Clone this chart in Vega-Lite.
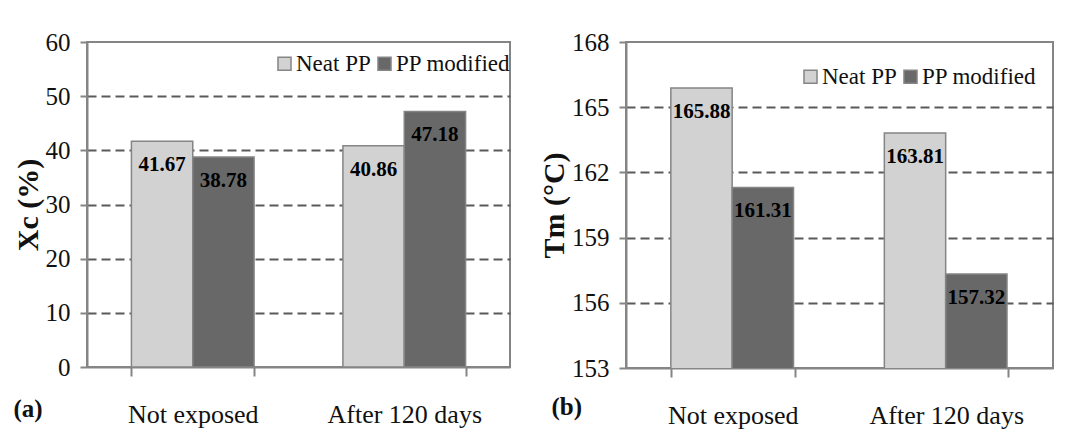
{
  "$schema": "https://vega.github.io/schema/vega-lite/v6.json",
  "padding": {"left": 12, "top": 29, "right": 5, "bottom": 0},
  "background": "white",
  "datasets": {
    "xc": [
      {"cat": "Not exposed", "series": "Neat PP", "value": 41.67},
      {"cat": "Not exposed", "series": "PP modified", "value": 38.78},
      {"cat": "After 120 days", "series": "Neat PP", "value": 40.86},
      {"cat": "After 120 days", "series": "PP modified", "value": 47.18}
    ],
    "tm": [
      {"cat": "Not exposed", "series": "Neat PP", "value": 165.88},
      {"cat": "Not exposed", "series": "PP modified", "value": 161.31},
      {"cat": "After 120 days", "series": "Neat PP", "value": 163.81},
      {"cat": "After 120 days", "series": "PP modified", "value": 157.32}
    ]
  },
  "spacing": 26,
  "resolve": {"legend": {"color": "independent"}},
  "hconcat": [
    {
      "width": 423,
      "height": 325,
      "data": {"name": "xc"},
      "encoding": {
        "x": {
          "field": "cat", "type": "nominal", "sort": ["Not exposed", "After 120 days"],
          "scale": {"paddingInner": 0.42, "paddingOuter": 0.21},
          "axis": {"title": "(a)", "titleX": -74, "titleY": 41, "titleAlign": "left", "titleBaseline": "middle", "titleAnchor": null}
        },
        "y": {
          "field": "value", "type": "quantitative",
          "scale": {"domain": [0, 60], "nice": false},
          "axis": {
            "title": "Xc (%)", "values": [0, 10, 20, 30, 40, 50, 60],
            "gridColor": {"condition": {"test": "datum.value == 60 || datum.value == 0", "value": "transparent"}, "value": "#5a5a5a"}
          }
        }
      },
      "layer": [
        {
          "mark": {"type": "bar", "stroke": "#858585", "strokeWidth": 1.5},
          "encoding": {
            "xOffset": {"field": "series", "type": "nominal", "sort": ["Neat PP", "PP modified"]},
            "color": {
              "field": "series", "type": "nominal",
              "scale": {"domain": ["Neat PP", "PP modified"], "range": ["#d2d2d2", "#686868"]},
              "legend": {"title": null, "orient": "none", "legendX": 186, "legendY": 10, "direction": "horizontal"}
            }
          }
        },
        {
          "mark": {"type": "text", "dy": 24, "baseline": "middle", "font": "Liberation Serif", "fontWeight": "bold", "fontSize": 21, "color": "black"},
          "encoding": {
            "xOffset": {"field": "series", "type": "nominal", "sort": ["Neat PP", "PP modified"]},
            "text": {"field": "value", "type": "quantitative", "format": ".2f"}
          }
        }
      ]
    },
    {
      "width": 427,
      "height": 326,
      "data": {"name": "tm"},
      "encoding": {
        "x": {
          "field": "cat", "type": "nominal", "sort": ["Not exposed", "After 120 days"],
          "scale": {"paddingInner": 0.42, "paddingOuter": 0.21},
          "axis": {"title": "(b)", "titleX": -75, "titleY": 38, "titleAlign": "left", "titleBaseline": "middle", "titleAnchor": null}
        },
        "y": {
          "field": "value", "type": "quantitative",
          "scale": {"domain": [153, 168], "nice": false, "zero": false},
          "axis": {
            "title": "Tm (°C)", "values": [153, 156, 159, 162, 165, 168],
            "gridColor": {"condition": {"test": "datum.value == 168 || datum.value == 153", "value": "transparent"}, "value": "#5a5a5a"}
          }
        }
      },
      "layer": [
        {
          "mark": {"type": "bar", "stroke": "#858585", "strokeWidth": 1.5, "clip": true},
          "encoding": {
            "xOffset": {"field": "series", "type": "nominal", "sort": ["Neat PP", "PP modified"]},
            "color": {
              "field": "series", "type": "nominal",
              "scale": {"domain": ["Neat PP", "PP modified"], "range": ["#d2d2d2", "#686868"]},
              "legend": {"title": null, "orient": "none", "legendX": 173, "legendY": 23, "direction": "horizontal"}
            }
          }
        },
        {
          "mark": {"type": "text", "dy": 24, "baseline": "middle", "font": "Liberation Serif", "fontWeight": "bold", "fontSize": 21, "color": "black"},
          "encoding": {
            "xOffset": {"field": "series", "type": "nominal", "sort": ["Neat PP", "PP modified"]},
            "text": {"field": "value", "type": "quantitative", "format": ".2f"}
          }
        }
      ]
    }
  ],
  "config": {
    "view": {"stroke": "#858585", "strokeWidth": 2},
    "font": "Liberation Serif",
    "axis": {
      "labelFont": "Liberation Serif", "labelFontSize": 25, "labelColor": "#111",
      "titleFont": "Liberation Serif", "titleColor": "#111",
      "domainColor": "#858585", "domainWidth": 2,
      "tickColor": "#858585", "tickWidth": 2
    },
    "axisY": {
      "grid": true, "gridDash": [9, 5], "gridWidth": 2.2,
      "tickSize": 7, "labelPadding": 10, "titleFontSize": 30, "titleFontWeight": "bold", "titlePadding": 2
    },
    "axisX": {
      "grid": false, "tickBand": "extent", "tickSize": 9, "labelPadding": 25, "labelFontSize": 26, "labelAngle": 0,
      "titleFontSize": 25, "titleFontWeight": "bold", "titleAngle": 0
    },
    "legend": {
      "labelFont": "Liberation Serif", "labelFontSize": 23, "labelColor": "#111",
      "symbolType": "square", "symbolSize": 170, "symbolStrokeColor": "#858585", "symbolStrokeWidth": 1.5,
      "symbolOpacity": 1, "columnPadding": 2, "labelOffset": 0, "padding": 0
    }
  }
}
